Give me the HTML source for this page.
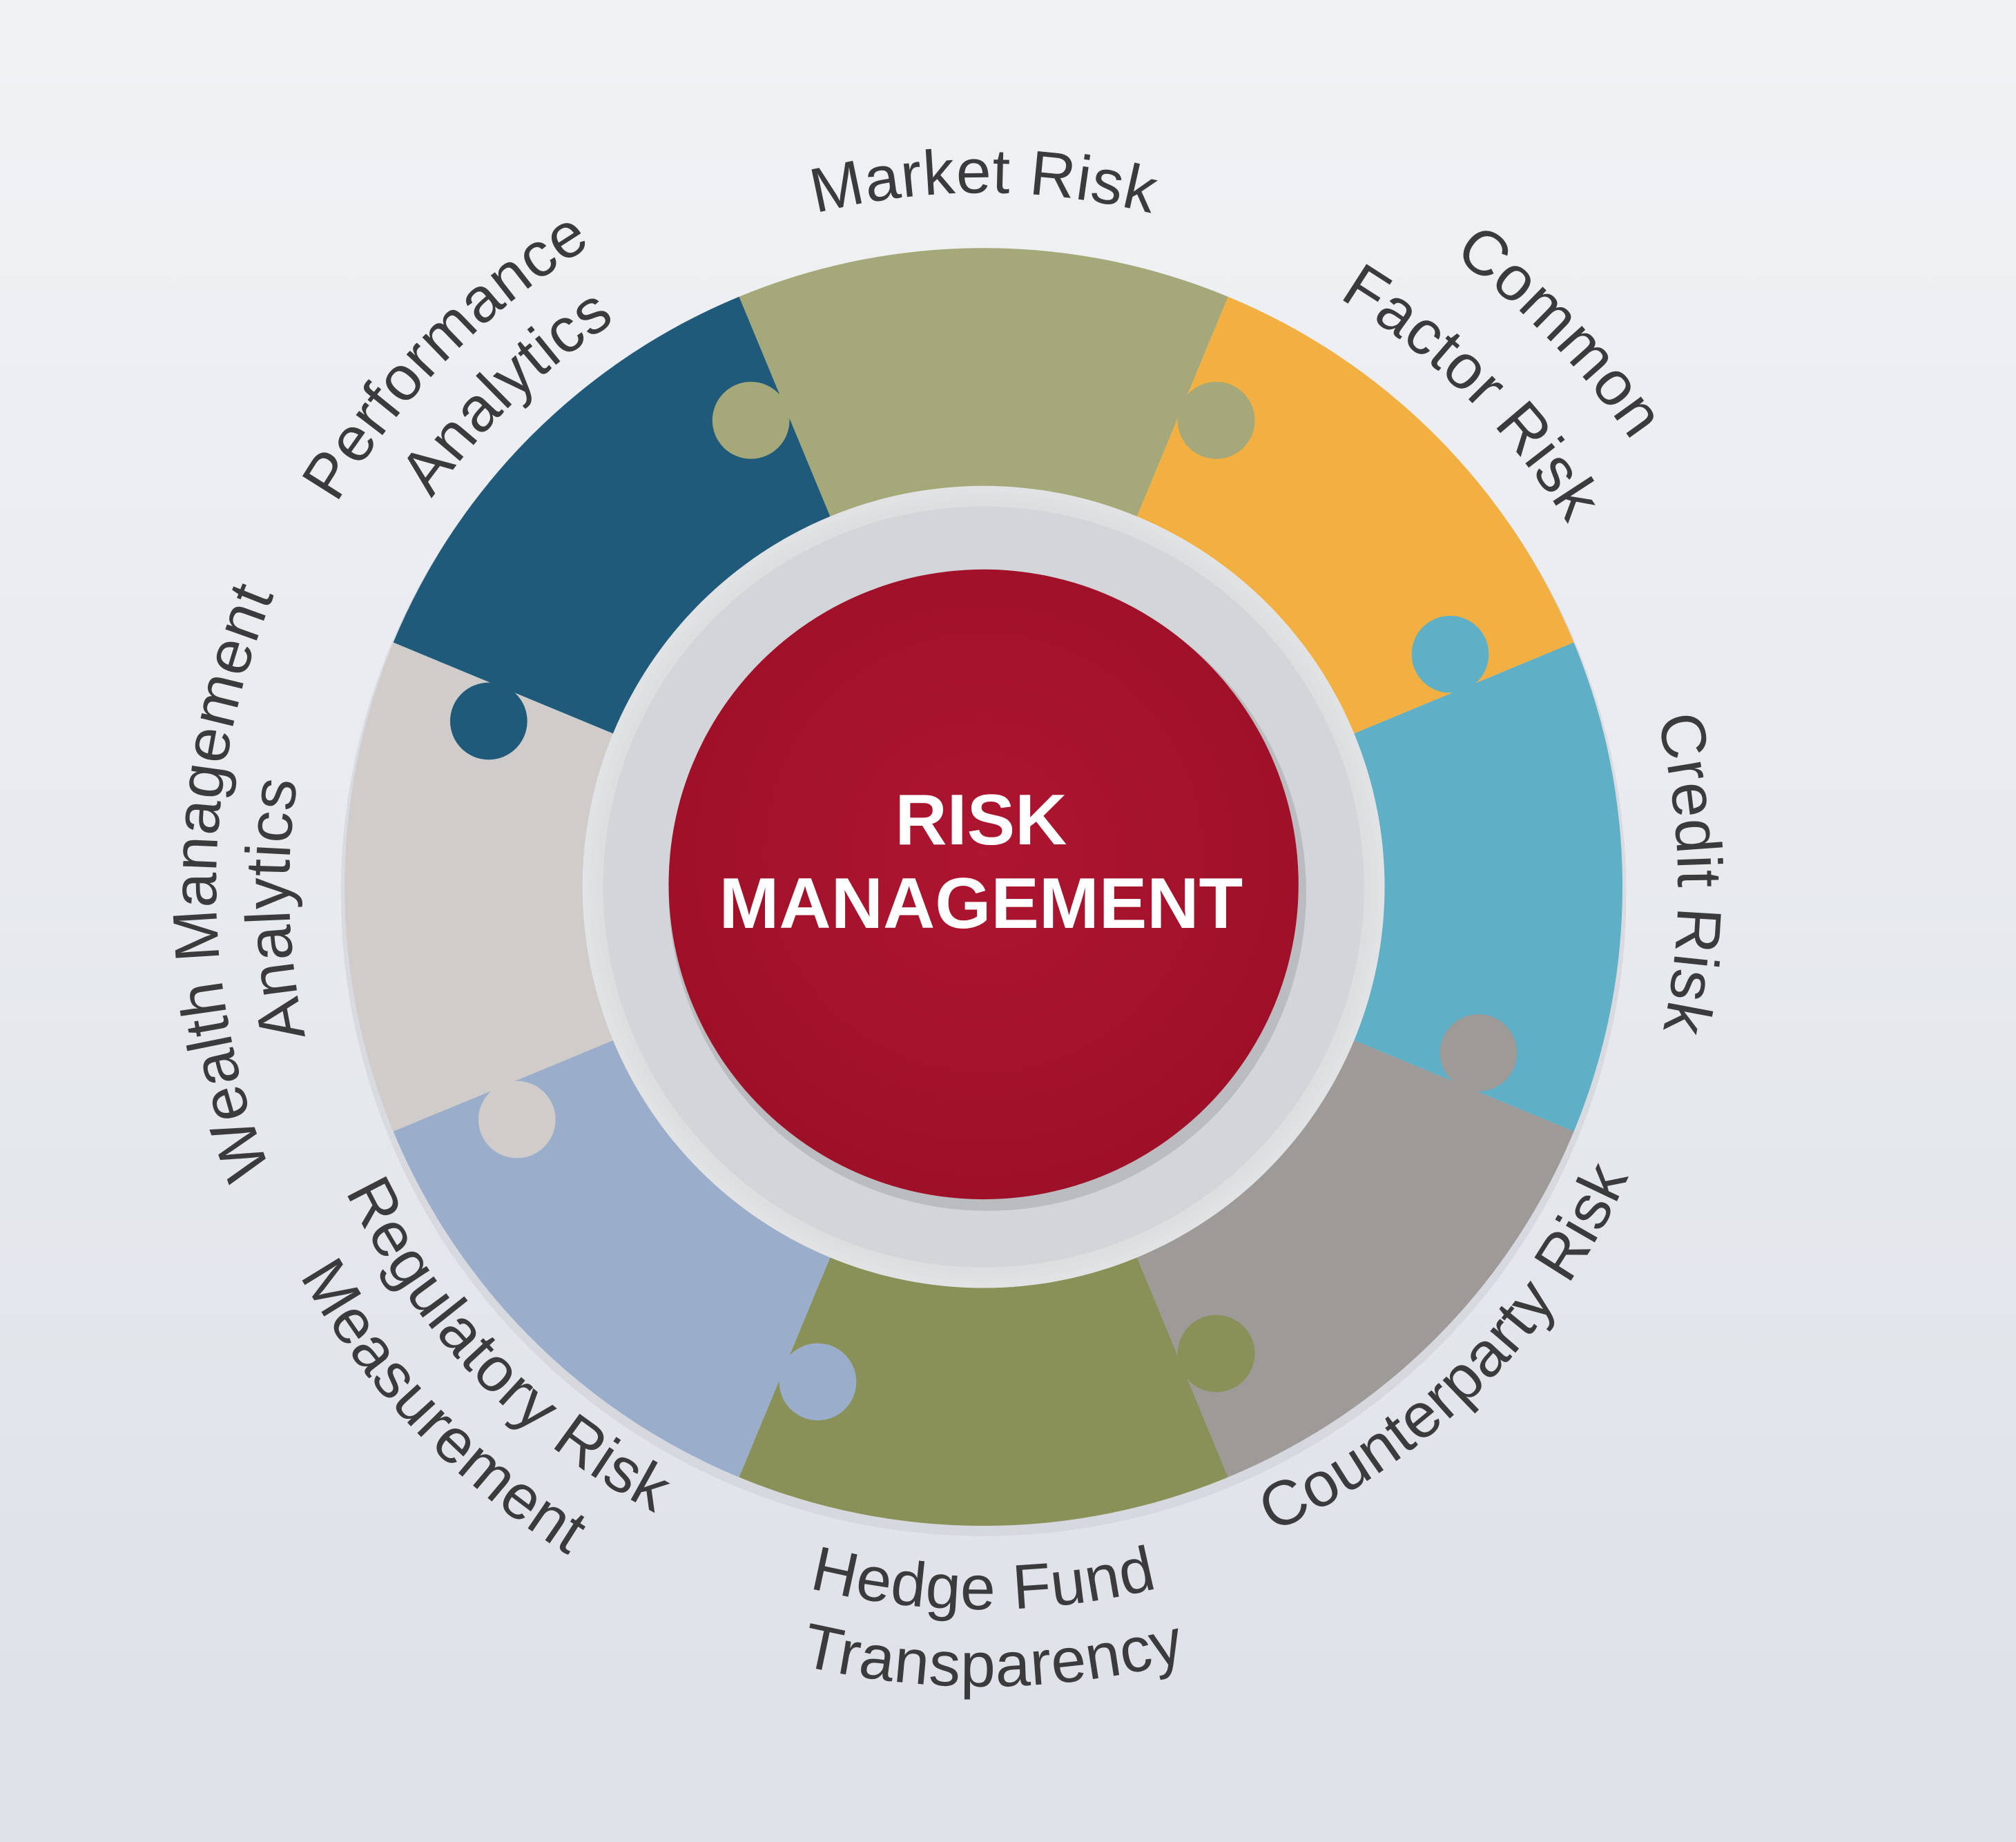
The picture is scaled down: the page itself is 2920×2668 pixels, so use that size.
<!DOCTYPE html>
<html><head><meta charset="utf-8"><style>
html,body{margin:0;padding:0;}
body{width:2920px;height:2668px;overflow:hidden;background:linear-gradient(#f1f2f4,#dde1e8);}
svg{display:block}
.lb{font-family:"Liberation Sans",sans-serif;font-size:49px;fill:#3b3b3d;letter-spacing:0.5px;}
</style></head><body>
<svg width="2920" height="2668" viewBox="0 0 1568 1433" xmlns="http://www.w3.org/2000/svg">
<defs>
<radialGradient id="halo" cx="50%" cy="50%" r="50%">
<stop offset="0.75" stop-color="#b9bcc0"/><stop offset="0.85" stop-color="#d0d2d5"/><stop offset="1" stop-color="#e2e3e5"/>
</radialGradient>
<radialGradient id="red" cx="50%" cy="45%" r="55%">
<stop offset="0" stop-color="#ad1530"/><stop offset="1" stop-color="#9e1028"/>
</radialGradient>
<path id="cw1" d="M765,1230 A540,540 0 1 1 765,150 A540,540 0 1 1 765,1230"/>
<path id="cwPerf" d="M765,1275 A585,585 0 1 1 765,105 A585,585 0 1 1 765,1275"/>
<path id="cwAna" d="M765,1215 A525,525 0 1 1 765,165 A525,525 0 1 1 765,1215"/>
<path id="cwCom" d="M765,1302 A612,612 0 1 1 765,78 A612,612 0 1 1 765,1302"/>
<path id="cwFac" d="M765,1225 A535,535 0 1 1 765,155 A535,535 0 1 1 765,1225"/>
<path id="cwWea" d="M765,1287 A597,597 0 1 1 765,93 A597,597 0 1 1 765,1287"/>
<path id="cwAn2" d="M765,1230 A540,540 0 1 1 765,150 A540,540 0 1 1 765,1230"/>
<path id="cwCre" d="M765,1230 A540,540 0 1 1 765,150 A540,540 0 1 1 765,1230"/>
<path id="ccw1" d="M765,140 A550,550 0 1 0 765,1240 A550,550 0 1 0 765,140"/>
<path id="ccwHed" d="M765,128 A562,562 0 1 0 765,1252 A562,562 0 1 0 765,128"/>
<path id="ccwTra" d="M765,68 A622,622 0 1 0 765,1312 A622,622 0 1 0 765,68"/>
<path id="ccwMea" d="M765,78 A612,612 0 1 0 765,1302 A612,612 0 1 0 765,78"/>
</defs>

<circle cx="765" cy="695" r="500" fill="#c9ccd1" opacity="0.5"/>
<path d="M574.8,230.8 A497,497 0 0 1 955.2,230.8 L883.6,403.6 A310,310 0 0 0 646.4,403.6 Z" fill="#a5a878"/>
<path d="M955.2,230.8 A497,497 0 0 1 1224.2,499.8 L1051.4,571.4 A310,310 0 0 0 883.6,403.6 Z" fill="#f2b042"/>
<path d="M1224.2,499.8 A497,497 0 0 1 1224.2,880.2 L1051.4,808.6 A310,310 0 0 0 1051.4,571.4 Z" fill="#5fafc6"/>
<path d="M1224.2,880.2 A497,497 0 0 1 955.2,1149.2 L883.6,976.4 A310,310 0 0 0 1051.4,808.6 Z" fill="#9d9a98"/>
<path d="M955.2,1149.2 A497,497 0 0 1 574.8,1149.2 L646.4,976.4 A310,310 0 0 0 883.6,976.4 Z" fill="#8a9158"/>
<path d="M574.8,1149.2 A497,497 0 0 1 305.8,880.2 L478.6,808.6 A310,310 0 0 0 646.4,976.4 Z" fill="#9aadca"/>
<path d="M305.8,880.2 A497,497 0 0 1 305.8,499.8 L478.6,571.4 A310,310 0 0 0 478.6,808.6 Z" fill="#cfccc9"/>
<path d="M305.8,499.8 A497,497 0 0 1 574.8,230.8 L646.4,403.6 A310,310 0 0 0 478.6,571.4 Z" fill="#1f5a7b"/>
<circle cx="584" cy="327" r="30" fill="#a5a878"/>
<circle cx="946" cy="327" r="30" fill="#a5a878"/>
<circle cx="1128" cy="509" r="30" fill="#5fafc6"/>
<circle cx="1150" cy="819" r="30" fill="#9d9a98"/>
<circle cx="946" cy="1053" r="30" fill="#8a9158"/>
<circle cx="636" cy="1075" r="30" fill="#9aadca"/>
<circle cx="402" cy="871" r="30" fill="#cfccc9"/>
<circle cx="380" cy="561" r="30" fill="#1f5a7b"/>

<circle cx="765" cy="690" r="312" fill="url(#halo)"/>
<circle cx="765" cy="690" r="296" fill="#d3d5d8"/>
<circle cx="768" cy="694" r="248" fill="#8f8f93" opacity="0.35"/>
<circle cx="765" cy="688" r="245" fill="url(#red)"/>
<text x="763" y="657" text-anchor="middle" font-family="Liberation Sans,sans-serif" font-weight="bold" font-size="56" fill="#fff">RISK</text>
<text x="763" y="722" text-anchor="middle" font-family="Liberation Sans,sans-serif" font-weight="bold" font-size="56" fill="#fff">MANAGEMENT</text>

<text class="lb"><textPath href="#cw1" startOffset="50%" text-anchor="middle">Market Risk</textPath></text>
<text class="lb"><textPath href="#cwPerf" startOffset="37.4%" text-anchor="middle">Performance</textPath></text>
<text class="lb"><textPath href="#cwAna" startOffset="37.8%" text-anchor="middle">Analytics</textPath></text>
<text class="lb"><textPath href="#cwCom" startOffset="62.8%" text-anchor="middle">Common</textPath></text>
<text class="lb"><textPath href="#cwFac" startOffset="62.4%" text-anchor="middle">Factor Risk</textPath></text>
<text class="lb"><textPath href="#cwWea" startOffset="25.1%" text-anchor="middle">Wealth Management</textPath></text>
<text class="lb"><textPath href="#cwAn2" startOffset="24.5%" text-anchor="middle">Analytics</textPath></text>
<text class="lb"><textPath href="#cwCre" startOffset="74.7%" text-anchor="middle">Credit Risk</textPath></text>
<text class="lb"><textPath href="#ccw1" startOffset="62.5%" text-anchor="middle">Counterparty Risk</textPath></text>
<text class="lb"><textPath href="#ccw1" startOffset="37.2%" text-anchor="middle">Regulatory Risk</textPath></text>
<text class="lb"><textPath href="#ccwMea" startOffset="37.2%" text-anchor="middle">Measurement</textPath></text>
<text class="lb"><textPath href="#ccwHed" startOffset="50%" text-anchor="middle">Hedge Fund</textPath></text>
<text class="lb"><textPath href="#ccwTra" startOffset="50.2%" text-anchor="middle">Transparency</textPath></text>
</svg>
</body></html>
